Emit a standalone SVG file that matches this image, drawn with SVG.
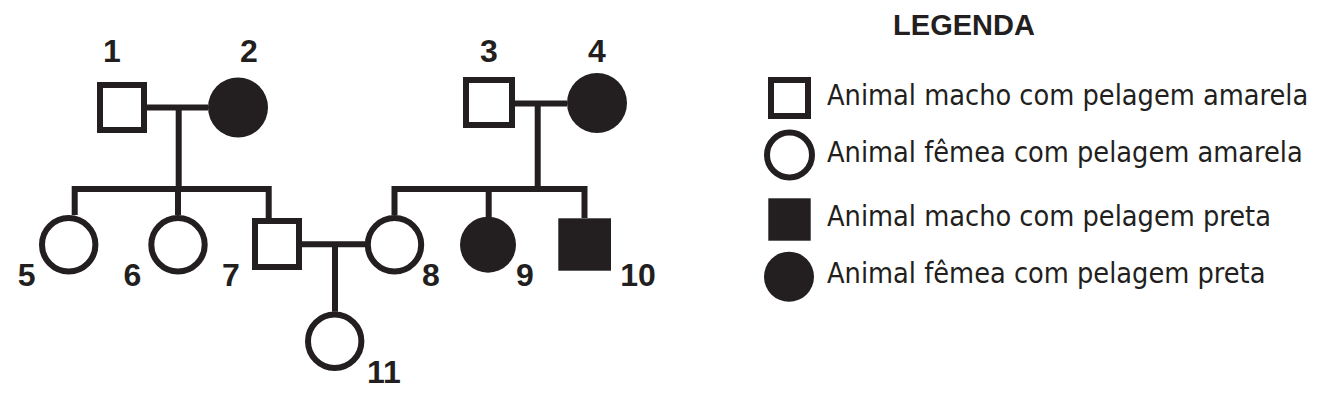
<svg xmlns="http://www.w3.org/2000/svg" width="1324" height="402" viewBox="0 0 1324 402">
  <style>
    .o { fill: #ffffff; stroke: #231f20; stroke-width: 6; }
    .f { fill: #231f20; stroke: none; }
    .ln { fill: none; stroke: #231f20; stroke-width: 6; stroke-linejoin: miter; }
    .num { font-family: "Liberation Sans", Arial, sans-serif; font-weight: bold; font-size: 32px; fill: #231f20; text-anchor: middle; }
    .ttl { font-family: "Liberation Sans", Arial, sans-serif; font-weight: bold; font-size: 29px; fill: #231f20; text-anchor: middle; }
    .lg { font-family: "DejaVu Sans Condensed", "DejaVu Sans", sans-serif; font-size: 28.6px; fill: #231f20; }
  </style>
  <rect width="1324" height="402" fill="#ffffff"/>
  <g id="connectors">
    <path class="ln" d="M147,107.5 H208 M178.7,107.5 V189"/>
    <path class="ln" d="M74.7,215 V189 H268.7 V218 M178,189 V215"/>
    <path class="ln" d="M302,244.3 H365 M335,244.3 V311.7"/>
    <path class="ln" d="M515,103.5 H567 M537.7,103.5 V189"/>
    <path class="ln" d="M394.5,215 V189 H584.5 V218 M488.7,189 V217"/>
  </g>
  <g id="n1"><rect class="o" x="100" y="85" width="44" height="45"/><text class="num" x="112" y="61.7">1</text></g>
  <g id="n2"><circle class="f" cx="238" cy="107.5" r="30"/><text class="num" x="249" y="61.7">2</text></g>
  <g id="n3"><rect class="o" x="466" y="80" width="46" height="45"/><text class="num" x="489" y="61.7">3</text></g>
  <g id="n4"><circle class="f" cx="597" cy="103" r="30"/><text class="num" x="597" y="61.7">4</text></g>
  <g id="n5"><circle class="o" cx="68.7" cy="244.7" r="26.7"/><text class="num" x="26.7" y="286">5</text></g>
  <g id="n6"><circle class="o" cx="178" cy="244.7" r="26.7"/><text class="num" x="132.5" y="286">6</text></g>
  <g id="n7"><rect class="o" x="255" y="221" width="44" height="46"/><text class="num" x="231" y="286">7</text></g>
  <g id="n8"><circle class="o" cx="394.5" cy="244.7" r="26.7"/><text class="num" x="431" y="286">8</text></g>
  <g id="n9"><circle class="f" cx="488" cy="244.7" r="28"/><text class="num" x="525" y="286">9</text></g>
  <g id="n10"><rect class="f" x="558.3" y="218.3" width="52.7" height="52.4"/><text class="num" x="638" y="286">10</text></g>
  <g id="n11"><circle class="o" cx="334.7" cy="341.3" r="26.7"/><text class="num" x="384" y="383">11</text></g>
  <g id="legend">
    <text class="ttl" x="964" y="35">LEGENDA</text>
    <rect class="o" x="771" y="80" width="37" height="36"/>
    <text class="lg" x="827" y="105">Animal macho com pelagem amarela</text>
    <circle class="o" cx="789.5" cy="155" r="22.5"/>
    <text class="lg" x="827" y="162">Animal fêmea com pelagem amarela</text>
    <rect class="f" x="768.3" y="198.3" width="42.4" height="42.4"/>
    <text class="lg" x="827" y="226">Animal macho com pelagem preta</text>
    <circle class="f" cx="789" cy="276.7" r="25"/>
    <text class="lg" x="827" y="283">Animal fêmea com pelagem preta</text>
  </g>
</svg>
